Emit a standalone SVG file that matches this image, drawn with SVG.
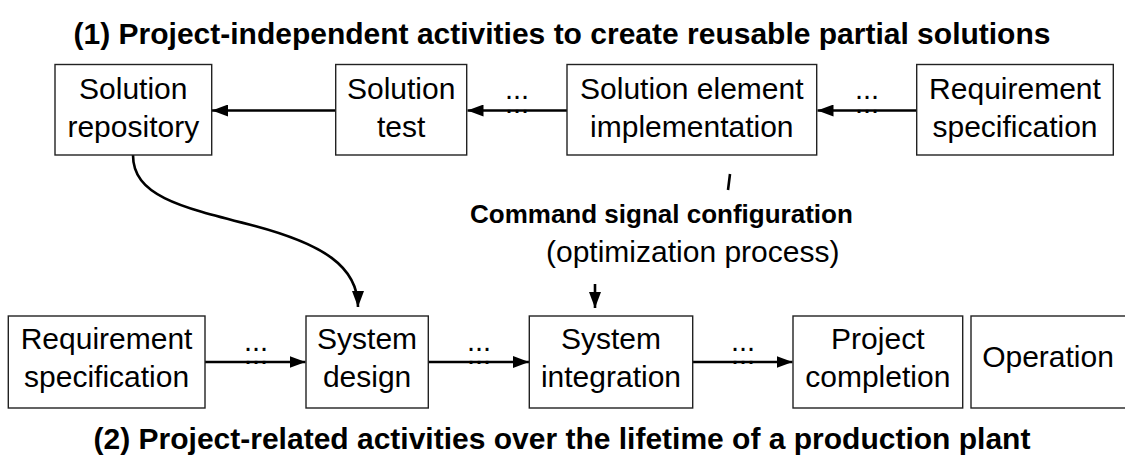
<svg xmlns="http://www.w3.org/2000/svg" width="1125" height="462" viewBox="0 0 1125 462">
<style>
.box{fill:#fff;stroke:#222;stroke-width:1.4}
.t{font-family:"Liberation Sans",Arial,sans-serif;font-size:30px;fill:#000;text-anchor:middle}
.title{font-family:"Liberation Sans",Arial,sans-serif;font-size:30px;font-weight:bold;fill:#000;text-anchor:middle}
.lbl{font-family:"Liberation Sans",Arial,sans-serif;font-size:29px;fill:#000;text-anchor:middle}
.con{fill:none;stroke:#000;stroke-width:2.6}
</style>
<defs>
<marker id="ah" viewBox="0 0 16 12" refX="16" refY="6" markerWidth="16" markerHeight="12" markerUnits="userSpaceOnUse" orient="auto">
<path d="M0,0 L16,6 L0,12 Z" fill="#000"/>
</marker>
</defs>
<rect width="1125" height="462" fill="#fff"/>
<text class="title" x="562" y="44">(1) Project-independent activities to create reusable partial solutions</text>
<text class="title" x="562" y="449">(2) Project-related activities over the lifetime of a production plant</text>

<g id="labels">
<text class="lbl" x="517" y="99">...</text>
<text class="lbl" x="517" y="113">...</text>
<text class="lbl" x="867" y="99">...</text>
<text class="lbl" x="867" y="113">...</text>
<text class="lbl" x="256" y="351">...</text>
<text class="lbl" x="256" y="364">...</text>
<text class="lbl" x="479" y="351">...</text>
<text class="lbl" x="479" y="364">...</text>
<text class="lbl" x="743" y="351">...</text>
<text class="lbl" x="743" y="364">...</text>
<text x="470" y="223" font-family="Liberation Sans, Arial, sans-serif" font-size="26" font-weight="bold">Command signal configuration</text>
<text x="546" y="262" font-family="Liberation Sans, Arial, sans-serif" font-size="30">(optimization process)</text>
</g>

<g id="connectors">
<line class="con" x1="335.7" y1="110.5" x2="212" y2="110.5" marker-end="url(#ah)"/>
<line class="con" x1="567" y1="110.5" x2="467.5" y2="110.5" marker-end="url(#ah)"/>
<line class="con" x1="916.7" y1="110.5" x2="817.5" y2="110.5" marker-end="url(#ah)"/>
<line class="con" x1="205" y1="362" x2="305.5" y2="362" marker-end="url(#ah)"/>
<line class="con" x1="428.3" y1="362" x2="529" y2="362" marker-end="url(#ah)"/>
<line class="con" x1="692.7" y1="362" x2="792.5" y2="362" marker-end="url(#ah)"/>
<path class="con" d="M133,155 C133,196 180,207 255,226 C322,244 358,266 358,307" marker-end="url(#ah)"/>
<line class="con" x1="595" y1="284" x2="595" y2="308" marker-end="url(#ah)"/>
<line class="con" x1="730" y1="174" x2="728" y2="190"/>
</g>

<g id="n-repository">
<rect class="box" x="55" y="64.5" width="156.7" height="90.5"/>
<text class="t" x="133.3" y="98.5">Solution</text>
<text class="t" x="133.3" y="137">repository</text>
</g>
<g id="n-test">
<rect class="box" x="335.7" y="64.5" width="131" height="90.5"/>
<text class="t" x="401.2" y="98.5">Solution</text>
<text class="t" x="401.2" y="137">test</text>
</g>
<g id="n-impl">
<rect class="box" x="567" y="64.5" width="249.7" height="90.5"/>
<text class="t" x="691.8" y="98.5">Solution element</text>
<text class="t" x="691.8" y="137">implementation</text>
</g>
<g id="n-req-top">
<rect class="box" x="916.7" y="64.5" width="196.6" height="90.5"/>
<text class="t" x="1015" y="98.5">Requirement</text>
<text class="t" x="1015" y="137">specification</text>
</g>

<g id="n-req-bottom">
<rect class="box" x="8.3" y="316" width="196.7" height="92"/>
<text class="t" x="106.6" y="348.5">Requirement</text>
<text class="t" x="106.6" y="387">specification</text>
</g>
<g id="n-design">
<rect class="box" x="306" y="316" width="122.3" height="92"/>
<text class="t" x="367.1" y="348.5">System</text>
<text class="t" x="367.1" y="387">design</text>
</g>
<g id="n-integration">
<rect class="box" x="529.3" y="316" width="163.4" height="92"/>
<text class="t" x="611" y="348.5">System</text>
<text class="t" x="611" y="387">integration</text>
</g>
<g id="n-completion">
<rect class="box" x="793" y="316" width="169.7" height="92"/>
<text class="t" x="877.8" y="348.5">Project</text>
<text class="t" x="877.8" y="387">completion</text>
</g>
<g id="n-operation">
<rect class="box" x="971" y="316" width="160" height="92"/>
<text class="t" x="1048" y="367">Operation</text>
</g>
</svg>
